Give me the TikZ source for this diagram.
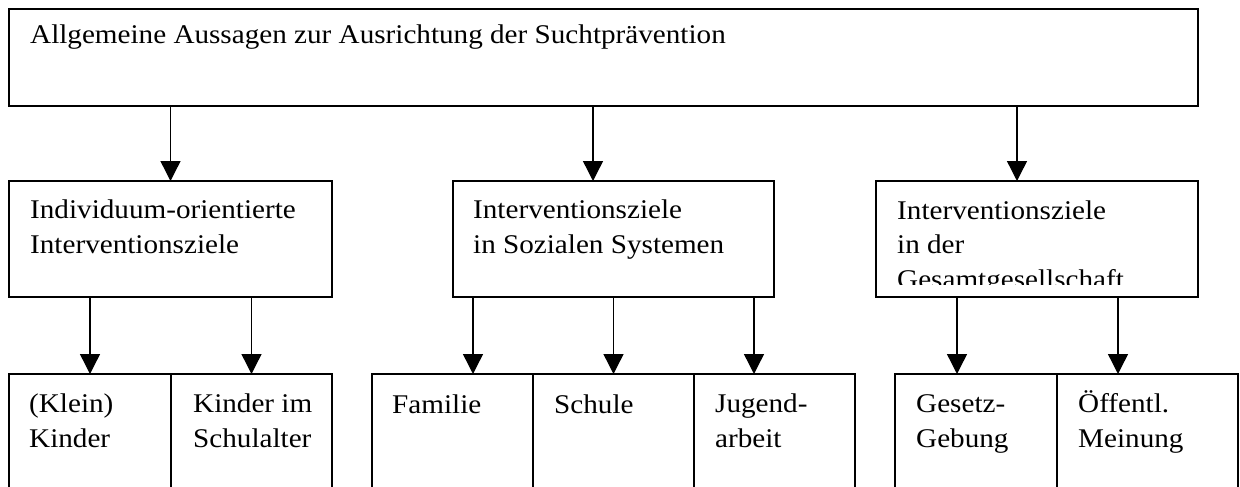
\documentclass[tikz,border=0pt]{standalone}
\usepackage{fontspec}
\setmainfont[FakeStretch=1.08]{Liberation Serif}
\usetikzlibrary{arrows.meta,calc}
\begin{document}
\begin{tikzpicture}[x=1pt,y=-1pt,
  box/.style={draw, line width=1.4pt, anchor=north west, inner sep=0pt, outer sep=0pt},
  txt/.style={anchor=base west, inner sep=0pt, align=left, font=\fontsize{27}{34.5}\selectfont},
  arr/.style={line width=1.4pt, -{Triangle[width=20pt,length=20pt]}}]
\clip (0,0) rectangle (1240,487);
\fill[white] (0,0) rectangle (1240,487);
% boxes
\node[box, minimum width=1189pt, minimum height=97pt] (top) at (9,9) {};
\node[box, minimum width=323pt, minimum height=116pt] (m1) at (9,181) {};
\node[box, minimum width=321pt, minimum height=116pt] (m2) at (453,181) {};
\node[box, minimum width=322pt, minimum height=116pt] (m3) at (876,181) {};
\node[box, minimum width=162pt, minimum height=150pt] (b1a) at (9,374) {};
\node[box, minimum width=161pt, minimum height=150pt] (b1b) at (171,374) {};
\node[box, minimum width=161pt, minimum height=150pt] (b2a) at (372,374) {};
\node[box, minimum width=161pt, minimum height=150pt] (b2b) at (533,374) {};
\node[box, minimum width=161pt, minimum height=150pt] (b2c) at (694,374) {};
\node[box, minimum width=162pt, minimum height=150pt] (b3a) at (895,374) {};
\node[box, minimum width=181pt, minimum height=150pt] (b3b) at (1057,374) {};
% texts (base anchor = baseline of the last line)
\node[txt] (t0) at (30,44) {Allgemeine Aussagen zur Ausrichtung der Suchtprävention};
\node[txt] (t1) at (30,253) {Individuum-orientierte\\Interventionsziele};
\node[txt] (t2) at (473,253) {Interventionsziele\\in Sozialen Systemen};
\begin{scope}
\clip (876,181) rectangle (1198,284);
\node[txt] (t3) at (897,288) {Interventionsziele\\in der\\Gesamtgesellschaft};
\end{scope}
\node[txt] (u1) at (29,447) {(Klein)\\Kinder};
\node[txt] (u2) at (193,447) {Kinder im\\Schulalter};
\node[txt] (u3) at (392,413) {Familie};
\node[txt] (u4) at (554,413) {Schule};
\node[txt] (u5) at (715,447) {Jugend-\\arbeit};
\node[txt] (u6) at (916,447) {Gesetz-\\Gebung};
\node[txt] (u7) at (1078,447) {Öffentl.\\Meinung};
% arrow target points
\coordinate (a1) at (m1.north);
\coordinate (a2) at ($(m2.north)+(-20.5,0)$);
\coordinate (a3) at ($(m3.north)+(-20,0)$);
\coordinate (c1) at (b1a.north);
\coordinate (c2) at (b1b.north);
\coordinate (c3) at ($(b2a.north)+(20.5,0)$);
\coordinate (c4) at (b2b.north);
\coordinate (c5) at ($(b2c.north)+(-20.5,0)$);
\coordinate (c6) at ($(b3a.north)+(-19,0)$);
\coordinate (c7) at ($(b3b.north)+(-29.5,0)$);
% arrows
\draw[arr] (top.south -| a1) -- (a1);
\draw[arr] (top.south -| a2) -- (a2);
\draw[arr] (top.south -| a3) -- (a3);
\draw[arr] (m1.south -| c1) -- (c1);
\draw[arr] (m1.south -| c2) -- (c2);
\draw[arr] (m2.south -| c3) -- (c3);
\draw[arr] (m2.south -| c4) -- (c4);
\draw[arr] (m2.south -| c5) -- (c5);
\draw[arr] (m3.south -| c6) -- (c6);
\draw[arr] (m3.south -| c7) -- (c7);
\end{tikzpicture}
\end{document}
